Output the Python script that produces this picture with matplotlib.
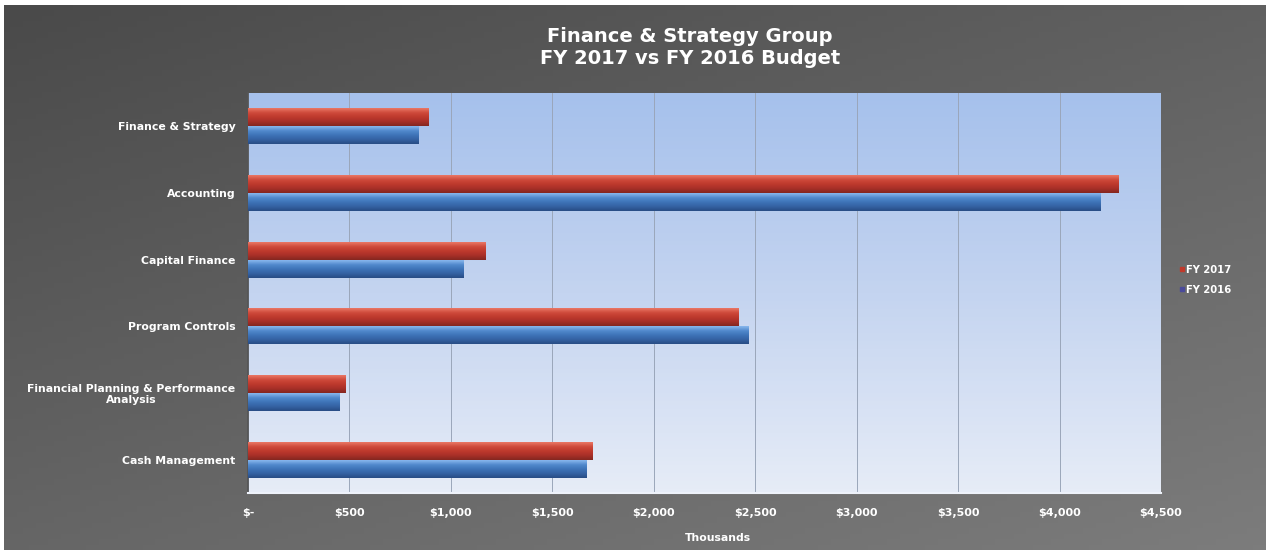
import numpy as np
import matplotlib.pyplot as plt
from matplotlib.colors import LinearSegmentedColormap
from matplotlib.ticker import FuncFormatter, MultipleLocator
from matplotlib.lines import Line2D

# budget by department, in thousands of dollars
departments = ['Finance & Strategy', 'Accounting', 'Capital Finance',
               'Program Controls', 'Financial Planning & Performance\nAnalysis',
               'Cash Management']
fy2017 = [890, 4290, 1170, 2420, 480, 1700]
fy2016 = [840, 4200, 1060, 2465, 450, 1670]

red_cmap = LinearSegmentedColormap.from_list(
    'red3d', ['#ea7866', '#cf4a3b', '#be392d', '#a83028', '#842620'])
blue_cmap = LinearSegmentedColormap.from_list(
    'blue3d', ['#8ab8ee', '#528acd', '#3e74b8', '#3562a3', '#284c84'])


def shade_bars(ax, bars, cmap):
    # vertical gradient clipped to every bar, gives the tube look
    grad = np.linspace(0, 1, 64).reshape(-1, 1)
    for b in bars:
        x0, y0 = b.get_x(), b.get_y()
        w, h = b.get_width(), b.get_height()
        im = ax.imshow(grad, cmap=cmap, aspect='auto', interpolation='bicubic',
                       extent=[x0, x0 + w, y0 + h, y0], zorder=3)
        im.set_clip_path(b)
        b.set_facecolor('none')


fig = plt.figure(figsize=(12.66, 5.5), dpi=100, facecolor='white')

# dark gray backdrop with a soft diagonal gradient
bg = fig.add_axes([4 / 1266, 0, 1 - 4 / 1266, 1 - 5 / 550], zorder=-10)
yy, xx = np.mgrid[0:1:100j, 0:1:200j]
bg.imshow(0.55 * yy + 0.45 * xx, cmap=LinearSegmentedColormap.from_list(
    'bg', ['#4a4a4a', '#7c7c7c']), aspect='auto', extent=[0, 1, 1, 0])
bg.axis('off')

ax = fig.add_axes([248 / 1266, 1 - 493 / 550, 913 / 1266, 400 / 550])
ax.set_facecolor('none')

# light blue plot area
ax.imshow(np.linspace(0, 1, 100).reshape(-1, 1),
          cmap=LinearSegmentedColormap.from_list('pa', ['#a6c1ec', '#c4d4f0', '#e6ecf7']),
          aspect='auto', extent=[0, 1, 0, 1], transform=ax.transAxes, zorder=0)

y = np.arange(len(departments))
h = 0.27
bars17 = ax.barh(y - h / 2, fy2017, height=h, color='#c0392b', zorder=3)
bars16 = ax.barh(y + h / 2, fy2016, height=h, color='#3a70b5', zorder=3)
shade_bars(ax, bars17, red_cmap)
shade_bars(ax, bars16, blue_cmap)

ax.set_xlim(0, 4500)
ax.set_ylim(len(departments) - 0.5, -0.5)
ax.xaxis.set_major_locator(MultipleLocator(500))
ax.xaxis.set_major_formatter(FuncFormatter(
    lambda v, p: '$-' if v == 0 else '${:,.0f}'.format(v)))
ax.grid(axis='x', color='#9aa6ba', linewidth=0.7, zorder=1)
ax.set_axisbelow(True)

ax.set_yticks(y)
ax.set_yticklabels(departments, fontsize=7.8, fontweight='bold', color='white',
                   linespacing=1.1, multialignment='center')
ax.tick_params(axis='y', length=0, pad=9)
ax.tick_params(axis='x', length=0, pad=11, labelsize=8, labelcolor='white')
for t in ax.get_xticklabels():
    t.set_fontweight('bold')

ax.set_xlabel('Thousands', color='white', fontsize=7.8, fontweight='bold')
ax.xaxis.set_label_coords(0.515, -0.1)

for s in ['top', 'right']:
    ax.spines[s].set_visible(False)
ax.spines['left'].set_color('#555555')
ax.spines['left'].set_linewidth(1.2)
ax.spines['bottom'].set_color('#eef2fa')
ax.spines['bottom'].set_linewidth(1.5)

fig.text(0.545, 1 - 47 / 550, 'Finance & Strategy Group\nFY 2017 vs FY 2016 Budget',
         ha='center', va='center', color='white', fontsize=14, fontweight='bold',
         linespacing=1.2)

handles = [Line2D([], [], marker='s', linestyle='', markersize=3.5, color='#c0392b'),
           Line2D([], [], marker='s', linestyle='', markersize=3.5, color='#4a4a9a')]
fig.legend(handles, ['FY 2017', 'FY 2016'], loc='center left',
           bbox_to_anchor=(1170 / 1266, 1 - 280 / 550), frameon=False,
           handlelength=0.5, handletextpad=0.2, labelspacing=1.0,
           prop={'size': 7.2, 'weight': 'bold'}, labelcolor='white')

fig.savefig('out.png', dpi=100, facecolor=fig.get_facecolor())
